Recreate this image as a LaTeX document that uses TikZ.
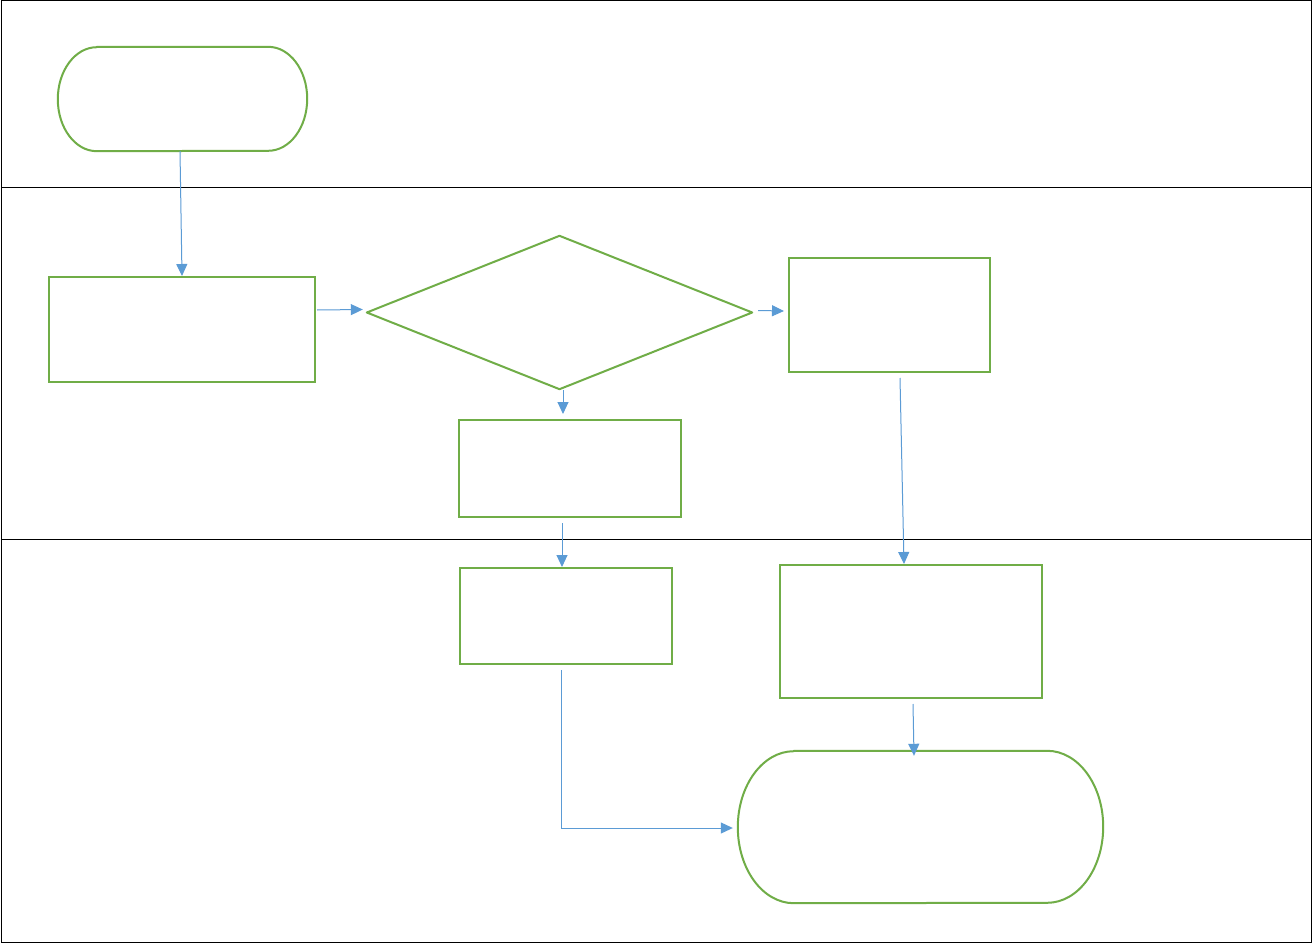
\documentclass[tikz,border=0pt]{standalone}
\usetikzlibrary{arrows.meta}
\definecolor{flowgreen}{HTML}{70AD47}
\definecolor{flowblue}{HTML}{5B9BD5}
\begin{document}
\begin{tikzpicture}[x=1pt,y=-1pt,
  box/.style={draw=flowgreen,line width=2pt,rectangle,inner sep=0pt},
  ghost/.style={draw=none,rectangle,inner sep=0pt},
  outline/.style={draw=flowgreen,line width=2pt,line join=round},
  conn/.style={draw=flowblue,line width=1pt,-{Triangle[length=12pt,width=11pt]}},
  lane/.style={draw=black,line width=1pt}]
\useasboundingbox (0,0) rectangle (1314,944);
\fill[white] (0,0) rectangle (1314,944);
% frame and lanes
\draw[lane] (1,1) rectangle (1311,942);
\draw[lane] (1,188) -- (1311,188);
\draw[lane] (1,539) -- (1311,539);
% nodes
\node[ghost,minimum width=249pt,minimum height=104pt] (start) at (182.5,99) {};
\node[box,minimum width=266pt,minimum height=105pt] (box1) at (182,329.5) {};
\node[ghost,minimum width=385pt,minimum height=153pt] (dia) at (559.5,312.5) {};
\node[box,minimum width=222pt,minimum height=97pt] (box2) at (570,468.5) {};
\node[box,minimum width=212pt,minimum height=96pt] (box3) at (566,616) {};
\node[box,minimum width=201pt,minimum height=114pt] (boxR) at (889.5,315) {};
\node[box,minimum width=262pt,minimum height=133pt] (box4) at (911,631.5) {};
\node[ghost,minimum width=365pt,minimum height=152pt] (end) at (920.5,827) {};
% outlines of terminators and decision
\draw[outline] ([xshift=39pt]start.north west) -- ([xshift=-39pt]start.north east)
  arc[start angle=90,end angle=-90,x radius=39pt,y radius=52pt]
  -- ([xshift=39pt]start.south west)
  arc[start angle=270,end angle=90,x radius=39pt,y radius=52pt] -- cycle;
\draw[outline] ([xshift=56pt]end.north west) -- ([xshift=-56pt]end.north east)
  arc[start angle=90,end angle=-90,x radius=56pt,y radius=76pt]
  -- ([xshift=56pt]end.south west)
  arc[start angle=270,end angle=90,x radius=56pt,y radius=76pt] -- cycle;
\draw[outline] (dia.west) -- (dia.north) -- (dia.east) -- (dia.south) -- cycle;
% connectors
\draw[conn] ([xshift=-2.5pt]start.south) -- (box1.north);
\draw[conn] ([xshift=1pt,yshift=19.5pt]box1.east) -- ([xshift=-4pt,yshift=3pt]dia.west);
\draw[conn] ([xshift=6pt,yshift=2pt]dia.east) -- ([xshift=-4pt,yshift=4pt]boxR.west);
\draw[conn] ([xshift=3.5pt,yshift=-1pt]dia.south) -- ([xshift=-7pt,yshift=5pt]box2.north);
\draw[conn] ([xshift=-8pt,yshift=-5pt]box2.south) -- ([xshift=-4pt]box3.north);
\draw[conn] ([xshift=10.5pt,yshift=-5pt]boxR.south) -- ([xshift=-7pt]box4.north);
\draw[conn] ([xshift=2pt,yshift=-5pt]box4.south) -- ([xshift=-6.5pt,yshift=-5pt]end.north);
\draw[conn] ([xshift=-5pt,yshift=-5pt]box3.south) |- ([xshift=-5pt,yshift=-1pt]end.west);
\end{tikzpicture}
\end{document}
